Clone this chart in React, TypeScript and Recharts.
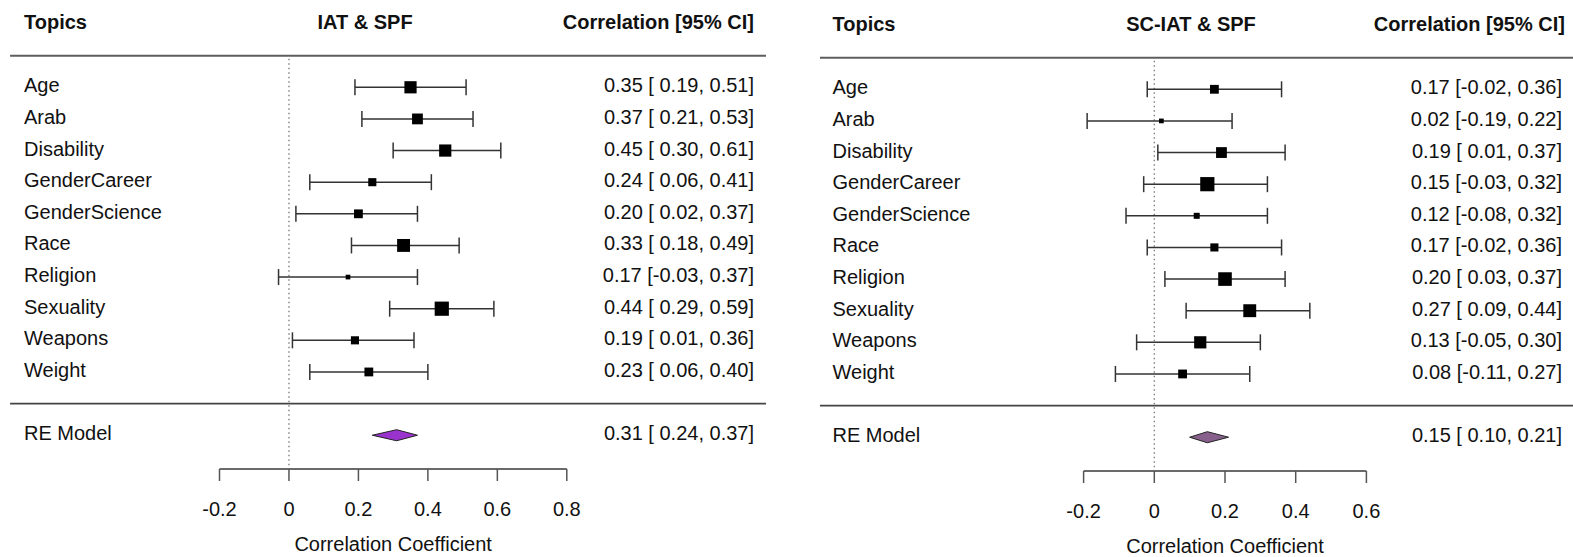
import { ComposedChart, Scatter, ErrorBar, Area, XAxis, YAxis, ReferenceLine } from 'recharts';

const FONT = '"Liberation Sans", Arial, Helvetica, sans-serif';
const INK = '#111111';

const topics = [
  'Age', 'Arab', 'Disability', 'GenderCareer', 'GenderScience',
  'Race', 'Religion', 'Sexuality', 'Weapons', 'Weight',
];

// IAT & SPF
const iatEstimate = [0.35, 0.37, 0.45, 0.24, 0.20, 0.33, 0.17, 0.44, 0.19, 0.23];
const iatLower = [0.19, 0.21, 0.30, 0.06, 0.02, 0.18, -0.03, 0.29, 0.01, 0.06];
const iatUpper = [0.51, 0.53, 0.61, 0.41, 0.37, 0.49, 0.37, 0.59, 0.36, 0.40];
const iatWeights = [12.2, 10.8, 12.2, 8.1, 8.8, 12.9, 4.7, 14.2, 8.1, 8.8];
const iatPooled = [0.31, 0.24, 0.37];

// SC-IAT & SPF
const sciatEstimate = [0.17, 0.02, 0.19, 0.15, 0.12, 0.17, 0.20, 0.27, 0.13, 0.08];
const sciatLower = [-0.02, -0.19, 0.01, -0.03, -0.08, -0.02, 0.03, 0.09, -0.05, -0.11];
const sciatUpper = [0.36, 0.22, 0.37, 0.32, 0.32, 0.36, 0.37, 0.44, 0.30, 0.27];
const sciatWeights = [8.8, 4.7, 10.8, 14.2, 6.0, 8.1, 13.6, 12.9, 12.2, 8.8];
const sciatPooled = [0.15, 0.10, 0.21];

const iatTicks = [-0.2, 0, 0.2, 0.4, 0.6, 0.8];
const sciatTicks = [-0.2, 0, 0.2, 0.4, 0.6];

// row layout: studies on rows 10..1, pooled estimate on -1, column headers on 12
const HEADER_ROW = 12;
const RE_ROW = -1;
const ROW_DOMAIN: [number, number] = [-2.068, 12.6];
const HEADER_RULE = 11;
const SEPARATOR_RULE = 0;
const DIAMOND_HALF = 0.175;

const fmt = (v: number) => v.toFixed(2);
// lower bound is padded so a missing minus sign keeps the column aligned
const fmtLower = (v: number) => (v < 0 ? v.toFixed(2) : ' ' + v.toFixed(2));
const ciText = (e: number, lo: number, hi: number) => `${fmt(e)} [${fmtLower(lo)}, ${fmt(hi)}]`;

type PanelProps = {
  left: number;
  width: number;
  marginTop: number;
  xAxisHeight: number;
  titleOffset: number;
  yAxisLeft: number;
  yAxisRight: number;
  title: string;
  titleX: number;
  labelX: number;
  valueX: number;
  headerRightX: number;
  ruleFrom: number;
  ruleTo: number;
  domain: [number, number];
  ticks: number[];
  estimate: number[];
  lower: number[];
  upper: number[];
  weights: number[];
  pooled: number[];
  diamondFill: string;
};

const textProps = {
  fontFamily: FONT,
  fontSize: 20,
  fill: INK,
  dy: '0.25em',
  style: { whiteSpace: 'pre' as const },
};

function ForestPanel(p: PanelProps) {
  const n = topics.length;
  const studies = p.estimate.map((e, i) => ({
    x: e,
    y: n - i,
    err: [e - p.lower[i], p.upper[i] - e],
    w: p.weights[i],
  }));
  const [pe, pl, pu] = p.pooled;
  const diamond = [
    { x: pl, band: [RE_ROW, RE_ROW] },
    { x: pe, band: [RE_ROW - DIAMOND_HALF, RE_ROW + DIAMOND_HALF] },
    { x: pu, band: [RE_ROW, RE_ROW] },
  ];
  const rowTicks = [HEADER_ROW, ...studies.map(s => s.y), RE_ROW];

  const renderLabel = (props: any) => {
    const v = props.payload.value;
    if (v === HEADER_ROW) {
      return <text {...textProps} x={p.labelX} y={props.y} fontWeight="bold">Topics</text>;
    }
    const name = v === RE_ROW ? 'RE Model' : topics[n - v];
    return <text {...textProps} x={p.labelX} y={props.y}>{name}</text>;
  };

  const renderValue = (props: any) => {
    const v = props.payload.value;
    if (v === HEADER_ROW) {
      return (
        <g>
          <text {...textProps} x={p.titleX} y={props.y} textAnchor="middle" fontWeight="bold">{p.title}</text>
          <text {...textProps} x={p.headerRightX} y={props.y} textAnchor="end" fontWeight="bold">Correlation [95% CI]</text>
        </g>
      );
    }
    const label = v === RE_ROW
      ? ciText(pe, pl, pu)
      : ciText(p.estimate[n - v], p.lower[n - v], p.upper[n - v]);
    return <text {...textProps} x={p.valueX} y={props.y} textAnchor="end">{label}</text>;
  };

  const square = (props: any) => {
    const s = props.payload.w;
    return <rect x={props.cx - s / 2} y={props.cy - s / 2} width={s} height={s} fill="#000" />;
  };

  return (
    <div style={{ position: 'absolute', left: p.left, top: 0 }}>
      <ComposedChart
        width={p.width}
        height={557}
        data={diamond}
        margin={{ top: p.marginTop, right: 0, bottom: 0, left: 0 }}
      >
        <XAxis
          dataKey="x"
          type="number"
          domain={p.domain}
          allowDataOverflow
          ticks={p.ticks}
          interval={0}
          height={p.xAxisHeight}
          tickSize={12}
          tickMargin={21}
          stroke="#6a6a6a"
          axisLine={{ stroke: '#6a6a6a', strokeWidth: 2 }}
          tickLine={{ stroke: '#555', strokeWidth: 1.5 }}
          tick={{ fontSize: 20, fill: INK, fontFamily: FONT }}
          tickFormatter={(v: number) => (v === 0 ? '0' : String(Number(v.toFixed(1))))}
          label={{
            value: 'Correlation Coefficient',
            position: 'insideBottom',
            offset: p.titleOffset,
            fontSize: 20,
            fill: INK,
            fontFamily: FONT,
          }}
        />
        <YAxis
          yAxisId="rows"
          dataKey="y"
          type="number"
          domain={ROW_DOMAIN}
          allowDataOverflow
          ticks={rowTicks}
          interval={0}
          width={p.yAxisLeft}
          axisLine={false}
          tickLine={false}
          tick={renderLabel}
        />
        <YAxis
          yAxisId="ci"
          orientation="right"
          type="number"
          domain={ROW_DOMAIN}
          allowDataOverflow
          ticks={rowTicks}
          interval={0}
          width={p.yAxisRight}
          axisLine={false}
          tickLine={false}
          tick={renderValue}
        />
        <ReferenceLine
          yAxisId="rows"
          segment={[{ x: p.ruleFrom, y: HEADER_RULE }, { x: p.ruleTo, y: HEADER_RULE }]}
          stroke="#5e5e5e"
          strokeWidth={2}
          ifOverflow="visible"
        />
        <ReferenceLine
          yAxisId="rows"
          segment={[{ x: p.ruleFrom, y: SEPARATOR_RULE }, { x: p.ruleTo, y: SEPARATOR_RULE }]}
          stroke="#444"
          strokeWidth={1.6}
          ifOverflow="visible"
        />
        <ReferenceLine
          yAxisId="rows"
          segment={[{ x: 0, y: HEADER_RULE - 0.1 }, { x: 0, y: ROW_DOMAIN[0] }]}
          stroke="#777"
          strokeWidth={1.3}
          strokeDasharray="1.5 3"
          ifOverflow="visible"
        />
        <Area
          yAxisId="rows"
          dataKey="band"
          type="linear"
          fill={p.diamondFill}
          fillOpacity={1}
          stroke="#222"
          strokeWidth={1}
          dot={false}
          activeDot={false}
          isAnimationActive={false}
        />
        <Scatter yAxisId="rows" data={studies} shape={square} isAnimationActive={false}>
          <ErrorBar dataKey="err" direction="x" width={8} stroke="#333" strokeWidth={1.5} />
        </Scatter>
      </ComposedChart>
    </div>
  );
}

export default function App() {
  return (
    <div style={{ position: 'absolute', left: 0, top: 0, width: 1573, height: 557, background: '#fff', overflow: 'hidden' }}>
      <ForestPanel
        left={0}
        width={790}
        marginTop={5.05}
        xAxisHeight={88}
        titleOffset={6}
        yAxisLeft={219.5}
        yAxisRight={223.2}
        title="IAT & SPF"
        titleX={365}
        labelX={24}
        valueX={754}
        headerRightX={754}
        ruleFrom={-0.803}
        ruleTo={1.3735}
        domain={[-0.2, 0.8]}
        ticks={iatTicks}
        estimate={iatEstimate}
        lower={iatLower}
        upper={iatUpper}
        weights={iatWeights}
        pooled={iatPooled}
        diamondFill="#9a32cd"
      />
      <ForestPanel
        left={790}
        width={783}
        marginTop={7.05}
        xAxisHeight={86}
        titleOffset={4}
        yAxisLeft={293.6}
        yAxisRight={206.6}
        title="SC-IAT & SPF"
        titleX={401}
        labelX={42.5}
        valueX={772}
        headerRightX={775}
        ruleFrom={-0.9457}
        ruleTo={1.19}
        domain={[-0.2, 0.6]}
        ticks={sciatTicks}
        estimate={sciatEstimate}
        lower={sciatLower}
        upper={sciatUpper}
        weights={sciatWeights}
        pooled={sciatPooled}
        diamondFill="#87608c"
      />
    </div>
  );
}
